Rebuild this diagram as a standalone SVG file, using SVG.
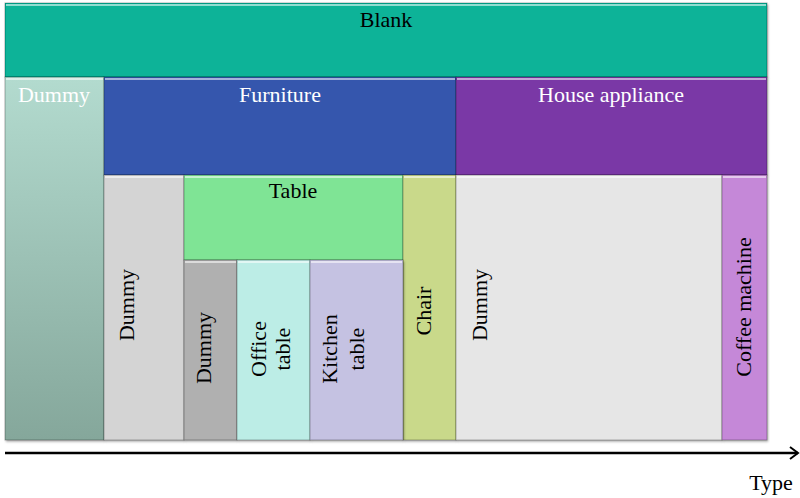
<svg xmlns="http://www.w3.org/2000/svg" width="800" height="498" viewBox="0 0 800 498">
<defs>
<linearGradient id="gDummy" x1="0" y1="0" x2="0" y2="1">
<stop offset="0" stop-color="#b3dbcf"/>
<stop offset="1" stop-color="#85a79b"/>
</linearGradient>
<filter id="sh" x="-5%" y="-5%" width="110%" height="110%">
<feDropShadow dx="1" dy="1.5" stdDeviation="1.2" flood-color="#000" flood-opacity="0.35"/>
</filter>
<marker id="arr" markerWidth="12" markerHeight="14" refX="10" refY="7" orient="auto" markerUnits="userSpaceOnUse">
<path d="M2,1 L10,7 L2,13" fill="none" stroke="#000" stroke-width="2"/>
</marker>
</defs>
<style>
.b{stroke:rgba(0,0,0,0.28);stroke-width:1;filter:url(#sh)}
.hl{fill:none;stroke:rgba(255,255,255,0.55);stroke-width:2}
.t{font-family:"Palatino Linotype","Book Antiqua",Palatino,"Liberation Serif",serif;font-size:22px;text-anchor:middle}
.w{fill:#ffffff}
.k{fill:#000000}
</style>
<rect width="800" height="498" fill="#ffffff"/>

<g id="blank">
<rect class="b" x="5" y="3" width="762" height="74" fill="#08b398"/>
<line class="hl" x1="6" y1="5" x2="766" y2="5"/>
<text class="t k" x="386" y="27">Blank</text>
</g>

<g id="dummy-left">
<rect class="b" x="5" y="77" width="99" height="363" fill="url(#gDummy)"/>
<line class="hl" x1="6" y1="79" x2="103" y2="79"/>
<text class="t w" x="54" y="102">Dummy</text>
</g>

<g id="furniture">
<rect class="b" x="104" y="77" width="352" height="98" fill="#3457ad"/>
<line class="hl" x1="105" y1="79" x2="455" y2="79"/>
<text class="t w" x="280" y="102">Furniture</text>
</g>

<g id="house-appliance">
<rect class="b" x="456" y="77" width="311" height="98" fill="#7a37a6"/>
<line class="hl" x1="457" y1="79" x2="766" y2="79"/>
<text class="t w" x="611" y="102">House appliance</text>
</g>

<g id="dummy-furniture">
<rect class="b" x="104" y="175" width="80" height="265" fill="#d4d4d4"/>
<line class="hl" x1="105" y1="177" x2="183" y2="177"/>
<text class="t k" transform="translate(134,305) rotate(-90)">Dummy</text>
</g>

<g id="table">
<rect class="b" x="184" y="175" width="219" height="85" fill="#7fe495"/>
<line class="hl" x1="185" y1="177" x2="402" y2="177"/>
<text class="t k" x="293" y="198">Table</text>
</g>

<g id="chair">
<rect class="b" x="403" y="175" width="53" height="265" fill="#c9d98a"/>
<line class="hl" x1="404" y1="177" x2="455" y2="177"/>
<text class="t k" transform="translate(431,311) rotate(-90)">Chair</text>
</g>

<g id="dummy-table">
<rect class="b" x="184" y="260" width="53" height="180" fill="#b0b0b0"/>
<line class="hl" x1="185" y1="262" x2="236" y2="262"/>
<text class="t k" transform="translate(211,348) rotate(-90)">Dummy</text>
</g>

<g id="office-table">
<rect class="b" x="237" y="260" width="73" height="180" fill="#bcede6"/>
<line class="hl" x1="238" y1="262" x2="309" y2="262"/>
<text class="t k" transform="translate(266,349) rotate(-90)">Office</text>
<text class="t k" transform="translate(290,349) rotate(-90)">table</text>
</g>

<g id="kitchen-table">
<rect class="b" x="310" y="260" width="93" height="180" fill="#c5c2e2"/>
<line class="hl" x1="311" y1="262" x2="402" y2="262"/>
<text class="t k" transform="translate(337,349) rotate(-90)">Kitchen</text>
<text class="t k" transform="translate(364,349) rotate(-90)">table</text>
</g>

<g id="dummy-appliance">
<rect class="b" x="456" y="175" width="266" height="265" fill="#e6e6e6"/>
<line class="hl" x1="457" y1="177" x2="721" y2="177"/>
<text class="t k" transform="translate(487,305) rotate(-90)">Dummy</text>
</g>

<g id="coffee-machine">
<rect class="b" x="722" y="175" width="45" height="265" fill="#c588d8"/>
<line class="hl" x1="723" y1="177" x2="766" y2="177"/>
<text class="t k" transform="translate(751,307) rotate(-90)">Coffee machine</text>
</g>

<g id="connectors">
<line x1="5" y1="453" x2="798" y2="453" stroke="#000" stroke-width="2.5" marker-end="url(#arr)"/>
</g>

<g id="axis-label">
<text class="t k" x="771" y="490">Type</text>
</g>
</svg>
